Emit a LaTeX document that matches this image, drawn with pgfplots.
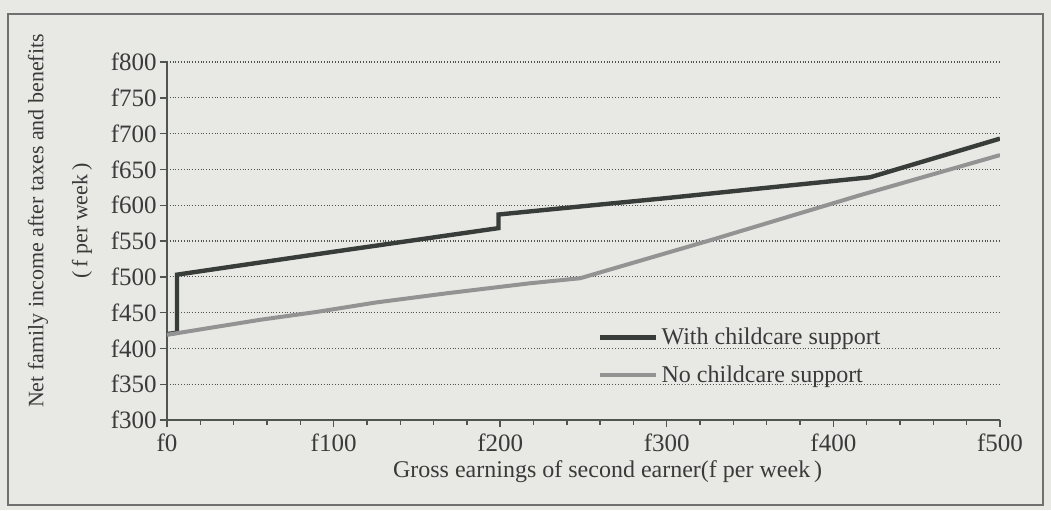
\documentclass[border=0pt]{standalone}
\usepackage{pgfplots}
\pgfplotsset{compat=1.18}
\usepackage{fontspec}
\setmainfont{Liberation Serif}
\definecolor{bg}{HTML}{E8E9E5}
\definecolor{frame}{HTML}{707070}
\definecolor{txt}{HTML}{3A3A3A}
\definecolor{darkline}{HTML}{383D39}
\definecolor{grayline}{HTML}{939393}
\definecolor{axcol}{HTML}{505550}
\begin{document}
\begin{tikzpicture}
\fill[bg] (0,0) rectangle (525.5pt,255pt);
\draw[frame, line width=0.8pt] (4pt,2.5pt) rectangle (521.5pt,248pt);
\begin{axis}[
  at={(83.5pt,45pt)}, anchor=south west,
  scale only axis, width=416.5pt, height=179pt,
  xmin=0, xmax=500, ymin=300, ymax=800,
  axis lines*=left, axis line style={-, axcol, line width=0.8pt},
  tick align=outside, tick pos=left,
  major tick length=3.5pt, minor tick length=2.5pt,
  tick style={axcol, line width=0.7pt},
  xtick={0,100,200,300,400,500},
  xticklabels={f0,f100,f200,f300,f400,f500},
  minor x tick num=4,
  ytick={300,350,400,450,500,550,600,650,700,750,800},
  yticklabels={f300,f350,f400,f450,f500,f550,f600,f650,f700,f750,f800},
  ymajorgrids, major grid style={densely dotted, axcol, line width=0.6pt},
  ticklabel style={font=\fontsize{12.5}{14}\selectfont, text=txt},
  yticklabel style={inner xsep=1.5pt},
  xlabel={Gross earnings of second earner(f per week\,)},
  xlabel style={at={(axis description cs:0.529,-0.145)}, anchor=center, font=\fontsize{12}{14}\selectfont, text=txt},
  ylabel={Net family income after taxes and benefits\\[9pt](\,f per week\,)},
  ylabel style={at={(axis description cs:-0.1285,0.556)}, anchor=center, align=center, font=\fontsize{11}{13}\selectfont, text=txt},
  legend style={draw=none, fill=none, at={(axis cs:255,337)}, anchor=south west,
    font=\fontsize{12}{14}\selectfont, text=txt, row sep=5pt,
    nodes={inner xsep=1.5pt}},
  legend cell align=left,
  legend image code/.code={\draw[#1] (0pt,0pt) -- (28pt,0pt);},
]
\addplot[darkline, line width=2.2pt] coordinates {
  (0,420) (6,422) (6,503) (100,535) (199,568) (199,587) (236,595.5) (300,610) (350,622) (422,639) (500,693)
};
\addlegendentry{With childcare support}
\addplot[grayline, line width=2pt] coordinates {
  (0,419) (56,440) (90,451) (125,464) (168,477) (218,491) (248,498) (326,551) (396,600) (416,614) (500,670)
};
\addlegendentry{No childcare support}
\end{axis}
\end{tikzpicture}
\end{document}
